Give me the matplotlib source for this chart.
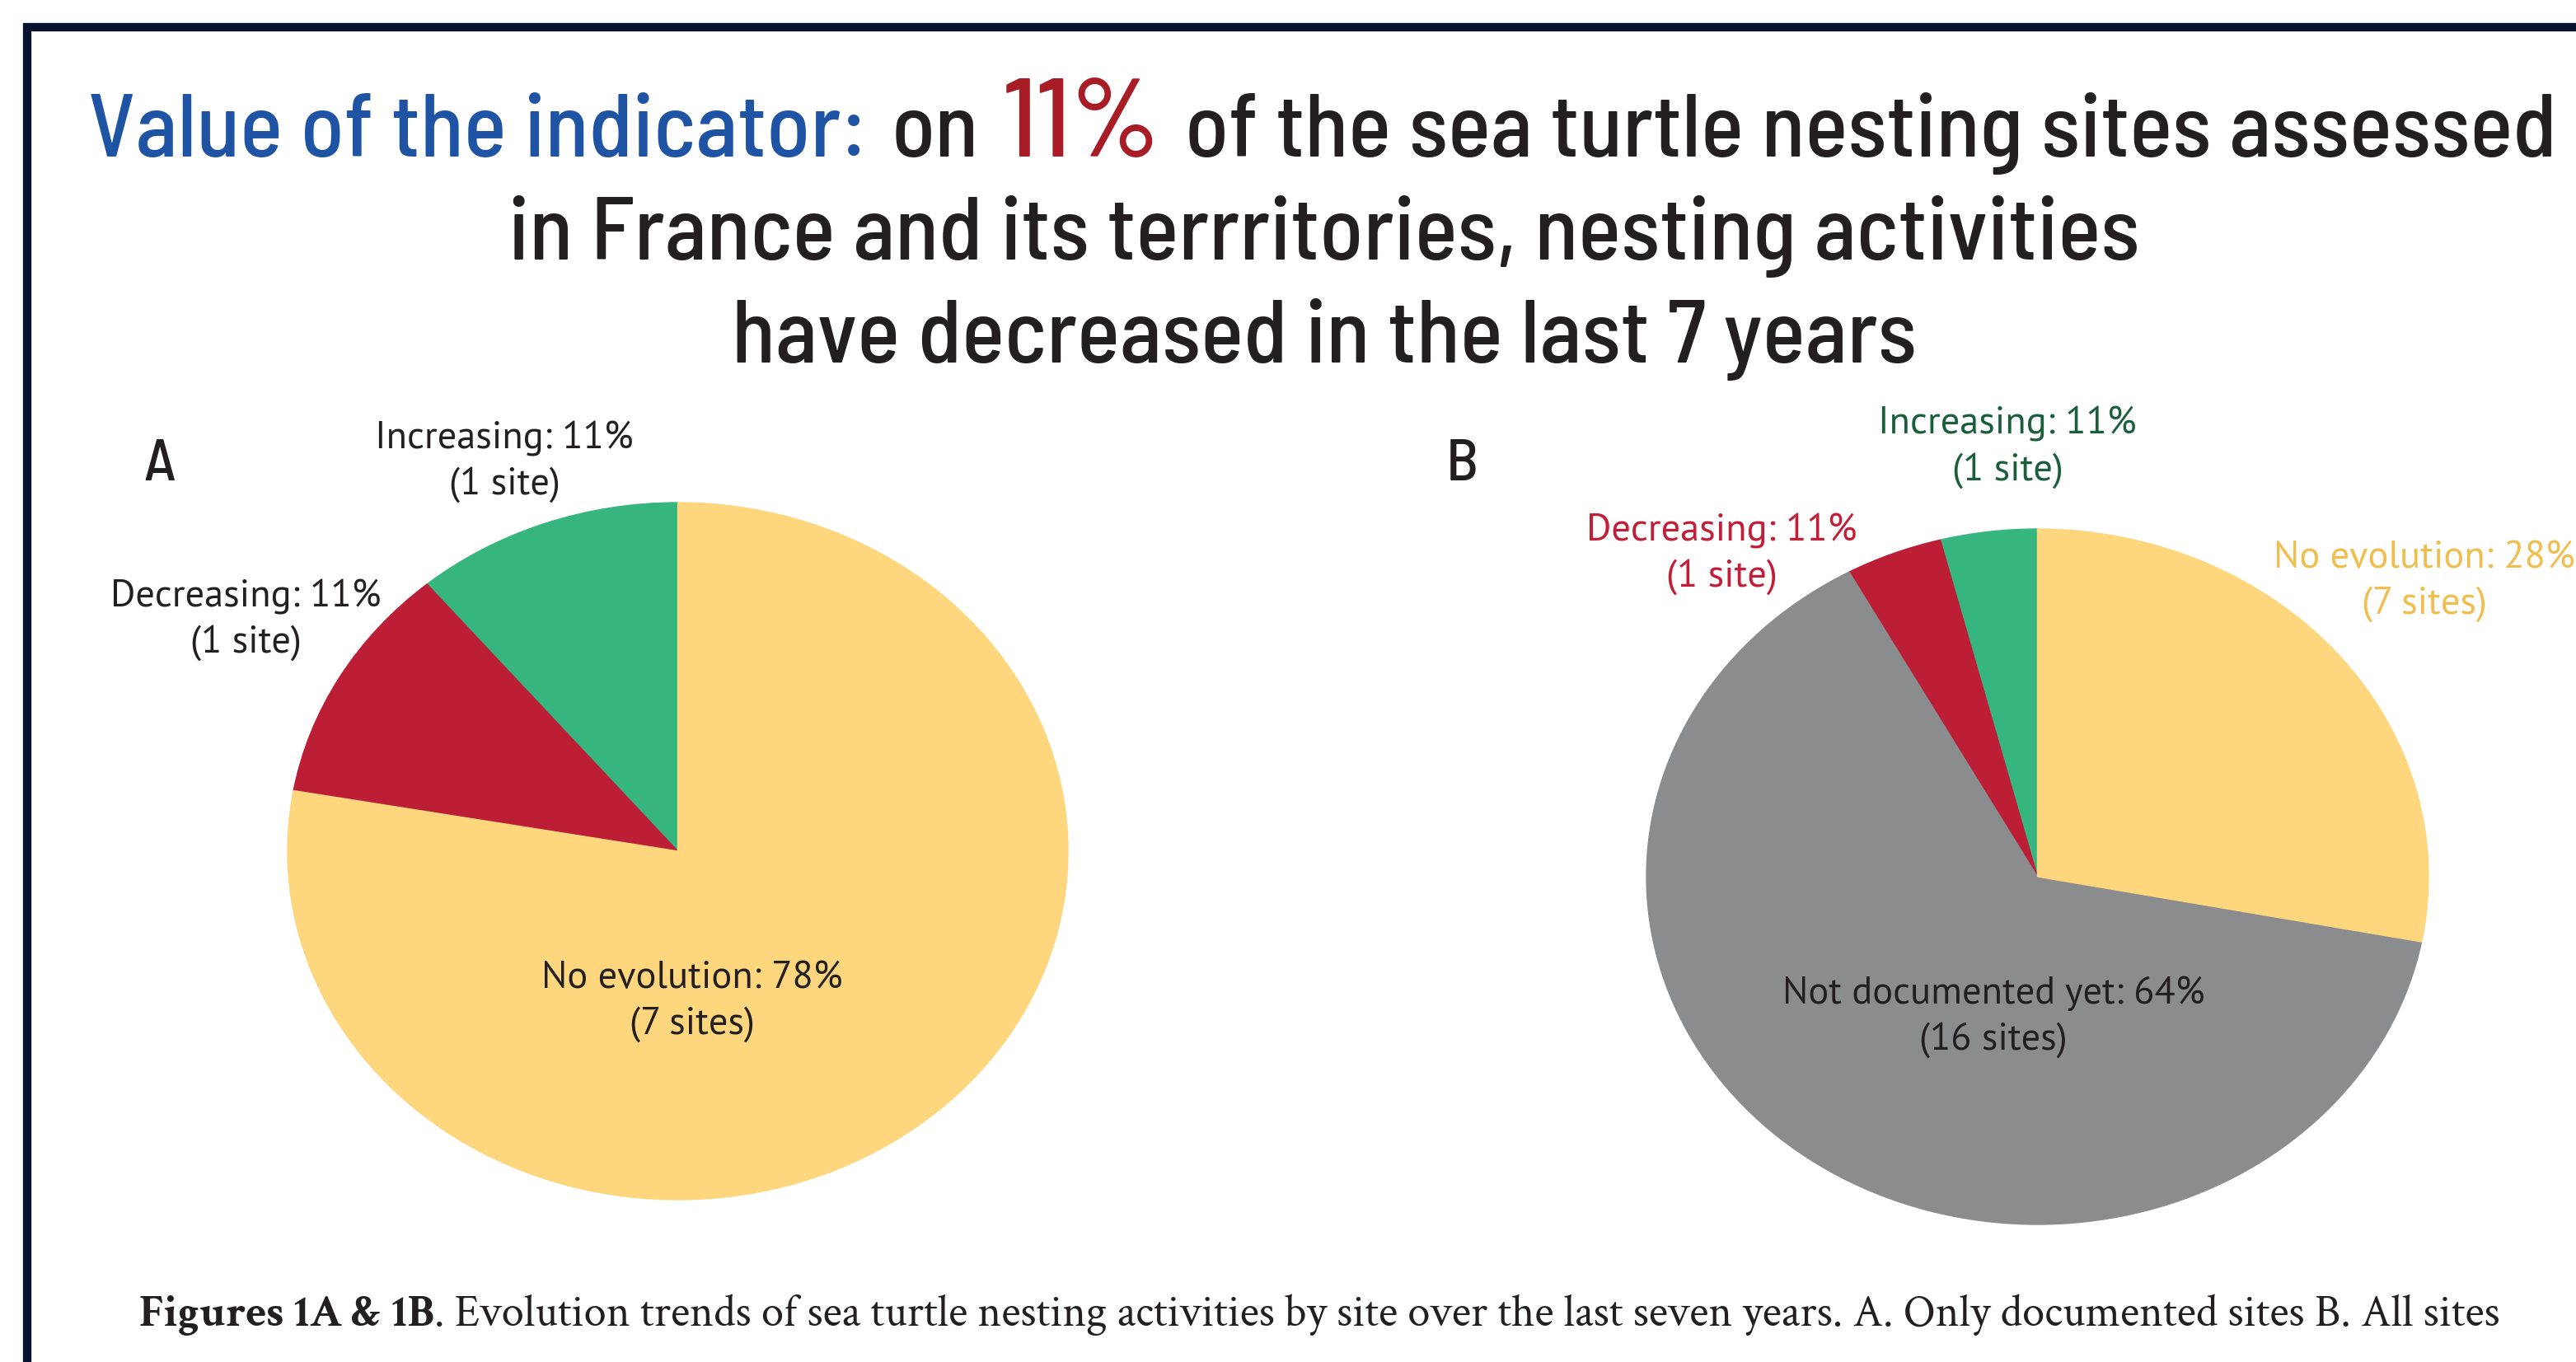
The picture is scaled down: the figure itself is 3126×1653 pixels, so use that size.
import matplotlib
matplotlib.use("Agg")
import matplotlib.pyplot as plt

W, H = 3126, 1653

# figure 1A: documented sites only
cats_a = ["Increasing", "Decreasing", "No evolution"]
sites_a = [1, 1, 7]
pct_a = [11, 11, 78]

# figure 1B: all sites
cats_b = ["Increasing", "Decreasing", "Not documented yet", "No evolution"]
sites_b = [1, 1, 16, 7]
pct_b = [11, 11, 64, 28]

slice_colors = {"Increasing": "#36B67E", "Decreasing": "#BC1E36",
                "No evolution": "#FDD67D", "Not documented yet": "#8A8C8D"}
label_colors_b = {"Increasing": "#1A5E3C", "Decreasing": "#C21E38",
                  "No evolution": "#F0BE50", "Not documented yet": "#231F20"}

title_runs = [("Value of the indicator:", "#1F54A4", 1.0),
              ("on", "#231F20", 1.0),
              ("11%", "#A81C26", 1.24),
              ("of the sea turtle nesting sites assessed", "#231F20", 1.0)]
title_lines = ["in France and its terrritories, nesting activities",
               "have decreased in the last 7 years"]
caption_bold = "Figures 1A & 1B"
caption_rest = (". Evolution trends of sea turtle nesting activities by site over the last "
                "seven years. A. Only documented sites B. All sites")

TITLE_FONT = ["Barlow Semi Condensed", "Barlow Condensed", "Barlow", "DejaVu Sans"]
LABEL_FONT = ["PT Sans", "Open Sans", "DejaVu Sans"]
CAPTION_FONT = ["Crimson Text", "Liberation Serif", "DejaVu Serif"]
DARK = "#231F20"

fig = plt.figure(figsize=(W / 100, H / 100), dpi=100)
renderer = fig.canvas.get_renderer()


def width(t):
    return t.get_window_extent(renderer).width


def pie_axes(x0, x1, y0, y1):
    ax = fig.add_axes([x0 / W, 1 - y1 / H, (x1 - x0) / W, (y1 - y0) / H])
    return ax


def draw_pie(ax, values, cats):
    wedges, _ = ax.pie(values, colors=[slice_colors[c] for c in cats], startangle=90,
                       counterclock=True, wedgeprops=dict(linewidth=1))
    for w in wedges:
        w.set_edgecolor(w.get_facecolor())
    ax.set_aspect("auto")
    ax.set_xlim(-1, 1)
    ax.set_ylim(-1, 1)
    ax.axis("off")


ax_a = pie_axes(349, 1296, 610, 1456)
draw_pie(ax_a, sites_a, cats_a)
ax_b = pie_axes(1998, 2947, 642, 1486)
draw_pie(ax_b, sites_b, cats_b)

# overlay in pixel coordinates for all the text and the frame
ov = fig.add_axes([0, 0, 1, 1])
ov.set_xlim(0, W)
ov.set_ylim(H, 0)
ov.axis("off")

navy = "#06122E"
ov.plot([28, W], [33, 33], color=navy, lw=7.4, solid_capstyle="butt")
ov.plot([33, 33], [28, H], color=navy, lw=7.4, solid_capstyle="butt")

# title, first line is built from coloured runs
base = 60
runs = [ov.text(0, 190, txt, color=col, fontsize=base * s, family=TITLE_FONT,
                weight="medium", ha="left", va="baseline") for txt, col, s in title_runs]
gap_ratio = 0.27
natural = sum(width(t) for t in runs) + 3 * gap_ratio * base * 100 / 72
base = base * 2995 / natural
for t, (_, _, s) in zip(runs, title_runs):
    t.set_fontsize(base * s)
x = 107
gap = gap_ratio * base * 100 / 72
for t in runs:
    t.set_x(x)
    x += width(t) + gap
for i, line in enumerate(title_lines):
    ov.text(1607, 315 + 125 * i, line, color=DARK, fontsize=base, family=TITLE_FONT,
            weight="medium", ha="center", va="baseline")

ov.text(174, 583, "A", color=DARK, fontsize=52, family=TITLE_FONT, weight="medium", va="baseline")
ov.text(1755, 583, "B", color=DARK, fontsize=52, family=TITLE_FONT, weight="medium", va="baseline")


# slice labels
probe = ov.text(0, 0, "Not documented yet: 64%", fontsize=30, family=LABEL_FONT)
label_size = 30 * 512 / width(probe)
probe.remove()


def site_text(n):
    return f"({n} site)" if n == 1 else f"({n} sites)"


def draw_labels(cats, pcts, sites, positions, colors):
    for c, p, n, (cx, cy) in zip(cats, pcts, sites, positions):
        col = colors.get(c, DARK)
        ov.text(cx, cy, f"{c}: {p}%", color=col, fontsize=label_size, family=LABEL_FONT,
                ha="center", va="baseline")
        ov.text(cx, cy + 56, site_text(n), color=col, fontsize=label_size, family=LABEL_FONT,
                ha="center", va="baseline")


draw_labels(cats_a, pct_a, sites_a, [(612, 544), (298, 736), (840, 1199)], {})
draw_labels(cats_b, pct_b, sites_b, [(2436, 527), (2089, 656), (2419, 1218), (2942, 689)],
            label_colors_b)

# caption
cb = ov.text(169, 1609, caption_bold, color=DARK, fontsize=30, family=CAPTION_FONT,
             weight="bold", va="baseline")
cr = ov.text(0, 1609, caption_rest, color=DARK, fontsize=30, family=CAPTION_FONT, va="baseline")
k = 2861 / (width(cb) + width(cr))
cb.set_fontsize(30 * k)
cr.set_fontsize(30 * k)
cr.set_x(169 + width(cb))

fig.savefig("out.png", dpi=100)
